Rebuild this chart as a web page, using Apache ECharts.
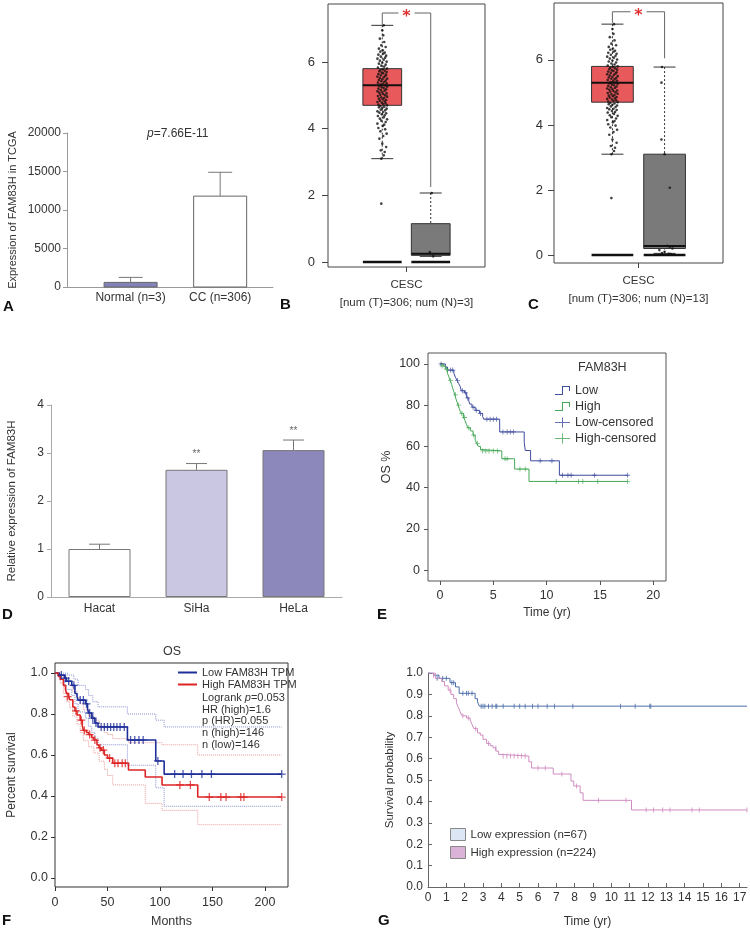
<!DOCTYPE html>
<html>
<head>
<meta charset="utf-8">
<script src="https://cdn.jsdelivr.net/npm/echarts@6/dist/echarts.min.js"></script>
<style>
html, body { margin: 0; padding: 0; background: #fff; }
#chart { width: 750px; height: 932px; }
</style>
</head>
<body>
<div id="chart"></div>
<script>
// ---------- data ----------
// A: TCGA expression
const catA = ['Normal (n=3)', 'CC (n=306)'];
const barA = [600, 11800];
const errA = [1250, 14900];

// B / C: GEPIA boxplots  [x, min, q1, median, q3, max]
const boxB = [[1, 3.1, 4.7, 5.3, 5.8, 7.1], [2, 0.17, 0.2, 0.25, 1.15, 2.07]];
const boxC = [[1, 3.1, 4.7, 5.3, 5.8, 7.1], [2, 0.05, 0.2, 0.28, 3.1, 5.78]];
// bracket: [x1, x2, top, leftEnd, rightEnd]
const bracketB = [[1, 2, 7.47, 7.12, 2.25]];
const bracketC = [[1, 2, 7.48, 7.14, 6.05]];
// tumour samples (jitter offset, log2 TPM)
const tumorPts = [
  [-0.02,3.1],[0.03,3.2],[0.05,3.3],[-0.03,3.35],[0.08,3.45],[0.0,3.55],[-0.06,3.7],[0.02,3.78],
  [0.09,3.85],[-0.04,3.92],[0.06,3.98],[-0.08,4.02],[0.01,4.08],[0.04,4.12],[-0.1,4.15],[0.07,4.2],
  [-0.02,4.24],[0.1,4.28],[-0.05,4.3],[0.03,4.34],[-0.09,4.38],[0.05,4.4],[-0.01,4.43],[0.08,4.46],
  [-0.06,4.48],[0.02,4.5],[-0.1,4.52],[0.06,4.55],[-0.03,4.57],[0.09,4.6],[0.0,4.62],[-0.07,4.64],
  [0.04,4.66],[-0.04,4.68],[0.1,4.7],[-0.08,4.72],[0.02,4.74],[0.07,4.76],[-0.01,4.78],[-0.1,4.8],
  [0.05,4.82],[-0.05,4.84],[0.08,4.86],[0.01,4.88],[-0.07,4.9],[0.04,4.92],[-0.02,4.94],[0.1,4.96],
  [-0.09,4.98],[0.06,5.0],[-0.04,5.02],[0.02,5.04],[0.09,5.06],[-0.06,5.08],[0.0,5.1],[-0.1,5.12],
  [0.05,5.14],[-0.03,5.16],[0.08,5.18],[-0.08,5.2],[0.03,5.22],[-0.01,5.24],[0.1,5.26],[-0.06,5.28],
  [0.06,5.3],[-0.04,5.32],[0.01,5.34],[0.09,5.36],[-0.09,5.38],[0.04,5.4],[-0.02,5.42],[0.07,5.44],
  [-0.07,5.46],[0.0,5.48],[0.1,5.5],[-0.05,5.52],[0.03,5.54],[-0.1,5.56],[0.06,5.58],[-0.03,5.6],
  [0.08,5.62],[-0.08,5.64],[0.02,5.66],[-0.01,5.68],[0.09,5.7],[-0.06,5.72],[0.05,5.74],[-0.04,5.76],
  [0.01,5.78],[0.1,5.8],[-0.09,5.83],[0.04,5.86],[-0.02,5.89],[0.07,5.92],[-0.07,5.95],[0.0,5.98],
  [0.09,6.01],[-0.05,6.04],[0.03,6.07],[-0.1,6.1],[0.06,6.13],[-0.03,6.16],[0.08,6.19],[-0.08,6.22],
  [0.02,6.25],[0.05,6.28],[-0.04,6.31],[0.01,6.35],[-0.07,6.4],[0.07,6.45],[-0.02,6.5],[0.04,6.6],
  [-0.05,6.7],[0.02,6.8],[0.0,6.95],[0.03,7.1],[-0.02,1.75]
];
const normPtsB = [[0.05,0.17],[-0.02,0.3],[0.02,2.07]];
const normPtsC = [[-0.05,5.78],[-0.06,5.3],[-0.06,3.55],[0.0,3.1],[0.1,2.07],[0.05,0.28],[0.1,0.25],
  [0.15,0.2],[-0.1,0.15],[0.0,0.1],[-0.05,0.06],[0.08,0.04],[0.12,0.03]];

// D: qPCR
const catD = ['Hacat', 'SiHa', 'HeLa'];
const barD = [1.0, 2.65, 3.06];
const errD = [1.1, 2.78, 3.27];
const sigD = ['', '**', '**'];

// E: KM (years, OS %)
const lowE = [[0,100],[0.5,98.5],[0.7,97],[1.3,95.5],[1.45,93.5],[1.6,92],[1.75,90.5],[1.9,89],[2.0,87],
  [2.3,86],[2.5,83.5],[2.7,82],[2.8,80.5],[3.0,79],[3.3,77.5],[3.7,76],[4.0,74.5],[4.1,73.2],[5.6,67],
  [7.9,62],[8.0,58],[8.5,53],[11.2,46],[17.6,46]];
const highE = [[0,100],[0.3,99],[0.5,97.5],[0.7,95.5],[0.85,93.5],[0.95,92],[1.1,90],[1.2,88],[1.3,86.5],
  [1.4,85],[1.5,83],[1.6,81.5],[1.7,80],[1.8,78.5],[1.9,77],[2.0,76],[2.2,74],[2.35,72.5],[2.5,70.5],
  [2.6,69],[2.85,67.5],[3.1,65.5],[3.3,63],[3.45,61.5],[3.6,60],[3.8,58.5],[3.9,57.8],[5.8,54],[7.0,49],
  [8.35,43],[17.6,43]];
const lowCensE = [[0.1,100],[1.0,97],[1.2,97],[1.65,92],[2.1,87],[2.4,86],[2.6,83.5],[3.1,79],[3.4,77.5],
  [3.8,76],[4.4,73.2],[4.7,73.2],[5.0,73.2],[5.3,73.2],[5.9,67],[6.3,67],[6.6,67],[6.9,67],[9.4,53],
  [10.5,53],[11.5,46],[12.0,46],[12.3,46],[14.5,46],[17.6,46]];
const highCensE = [[0.2,99],[0.6,97.5],[1.0,92],[1.45,85],[1.75,80],[2.05,76],[2.3,74],[2.7,69],[3.15,65.5],
  [3.5,61.5],[4.0,57.8],[4.3,57.8],[4.6,57.8],[5.0,57.8],[5.4,57.8],[6.1,54],[6.3,54],[7.5,49],[8.0,49],
  [10.9,43],[13.0,43],[13.4,43],[14.8,43],[17.6,43]];

// F: GEPIA KM (months, survival)
const lowF = [[0,1],[4,0.99],[9,0.975],[11,0.96],[16,0.94],[19,0.9],[21,0.885],[22,0.868],[29,0.85],
  [31,0.825],[32,0.805],[35,0.78],[38,0.756],[41,0.737],[69,0.673],[96,0.571],[104,0.507],[216,0.507]];
const highF = [[0,1],[3,0.985],[5,0.97],[8,0.94],[10,0.92],[11,0.9],[13,0.885],[14,0.87],[17,0.834],
  [19,0.815],[21,0.795],[24,0.77],[26,0.745],[27,0.72],[30,0.71],[32,0.7],[35,0.685],[37,0.673],[40,0.649],
  [42,0.635],[44,0.624],[47,0.6],[50,0.585],[55,0.56],[70,0.527],[86,0.493],[102,0.454],[136,0.395],[216,0.395]];
const lowUpF = [[0,1],[8,1],[12,0.99],[18,0.97],[22,0.94],[29,0.92],[32,0.89],[36,0.86],[41,0.835],
  [69,0.8],[96,0.77],[104,0.737],[216,0.737]];
const lowLoF = [[0,1],[4,0.97],[9,0.94],[11,0.92],[16,0.89],[19,0.85],[22,0.81],[29,0.78],[32,0.74],
  [35,0.71],[38,0.68],[41,0.65],[69,0.55],[96,0.44],[104,0.35],[216,0.35]];
const highUpF = [[0,1],[5,0.99],[8,0.98],[11,0.96],[14,0.94],[17,0.91],[21,0.88],[24,0.85],[27,0.82],
  [32,0.79],[37,0.77],[42,0.74],[47,0.71],[50,0.7],[55,0.68],[70,0.66],[102,0.65],[136,0.6],[216,0.6]];
const highLoF = [[0,1],[5,0.95],[8,0.9],[11,0.86],[14,0.83],[17,0.79],[21,0.75],[24,0.71],[27,0.67],
  [32,0.64],[37,0.61],[42,0.57],[47,0.53],[50,0.5],[55,0.454],[86,0.364],[102,0.33],[136,0.26],[216,0.26]];
const lowCensF = [[6,0.99],[10,0.975],[13,0.96],[18,0.94],[24,0.868],[27,0.868],[30,0.85],[33,0.805],
  [36,0.78],[39,0.756],[44,0.737],[47,0.737],[50,0.737],[53,0.737],[56,0.737],[59,0.737],[62,0.737],
  [66,0.737],[72,0.673],[76,0.673],[80,0.673],[84,0.673],[98,0.571],[114,0.507],[122,0.507],[130,0.507],
  [140,0.507],[149,0.507],[216,0.507]];
const highCensF = [[12,0.885],[20,0.815],[25,0.77],[28,0.72],[33,0.7],[38,0.673],[43,0.635],[46,0.624],
  [52,0.585],[57,0.56],[60,0.56],[64,0.56],[67,0.56],[119,0.454],[129,0.454],[147,0.395],[158,0.395],
  [163,0.395],[177,0.395],[180,0.395],[216,0.395]];

// G: KM (years, probability)
const lowG = [[0,1],[0.3,0.99],[0.6,0.975],[1.2,0.955],[1.5,0.935],[1.7,0.905],[2.57,0.88],[2.7,0.865],
  [2.8,0.845],[17.4,0.845]];
const highG = [[0,1],[0.4,0.975],[0.75,0.96],[0.9,0.94],[1.1,0.92],[1.25,0.9],[1.4,0.88],[1.55,0.86],
  [1.65,0.84],[1.75,0.82],[1.85,0.8],[2.1,0.79],[2.3,0.78],[2.4,0.76],[2.5,0.74],[2.7,0.72],[2.85,0.71],
  [3.0,0.69],[3.2,0.67],[3.4,0.66],[3.55,0.65],[3.7,0.635],[3.85,0.62],[3.95,0.612],[5.5,0.585],
  [5.65,0.556],[6.83,0.528],[7.8,0.495],[7.95,0.472],[8.3,0.44],[8.46,0.405],[11.1,0.36],[17.4,0.36]];
const lowCensG = [[0.5,0.975],[0.8,0.975],[1.0,0.975],[1.3,0.955],[1.4,0.955],[1.9,0.905],[2.1,0.905],
  [2.2,0.905],[2.4,0.905],[2.9,0.845],[3.0,0.845],[3.1,0.845],[3.3,0.845],[3.5,0.845],[3.7,0.845],
  [3.75,0.845],[4.1,0.845],[4.7,0.845],[5.0,0.845],[5.3,0.845],[5.7,0.845],[6.0,0.845],[6.5,0.845],
  [6.9,0.845],[7.9,0.845],[10.5,0.845],[11.3,0.845],[12.1,0.845],[12.15,0.845]];
const highCensG = [[0.3,0.99],[1.2,0.92],[1.9,0.8],[2.2,0.79],[2.6,0.74],[3.3,0.67],[3.7,0.65],[4.1,0.612],
  [4.3,0.612],[4.5,0.612],[4.7,0.612],[4.9,0.612],[5.1,0.612],[5.3,0.612],[6.0,0.556],[6.4,0.556],
  [7.3,0.528],[8.1,0.472],[9.3,0.405],[10.8,0.405],[11.9,0.36],[12.3,0.36],[12.8,0.36],[13.2,0.36],
  [14.4,0.36],[14.8,0.36],[17.4,0.36]];

const ticksE_x = [0, 5, 10, 15, 20];
const ticksE_y = [0, 20, 40, 60, 80, 100];
const ticksF_x = [0, 50, 100, 150, 200];
const ticksF_y = [0, 0.2, 0.4, 0.6, 0.8, 1.0];
const ticksG_x = [0, 1, 2, 3, 4, 5, 6, 7, 8, 9, 10, 11, 12, 13, 14, 15, 16, 17];

// ---------- chart ----------
const FONT = '"Liberation Sans", Arial, sans-serif';
const TXT = '#333';
const PLUS = 'path://M-0.16,-1H0.16V-0.16H1V0.16H0.16V1H-0.16V0.16H-1V-0.16H-0.16Z';
const PLUS_L = 'path://M7,0H8V4.5H15V5.5H8V10H7V5.5H0V4.5H7Z';
const STEP = 'path://M0,9H7V1H15V6H14V2H8V10H0Z';

const chart = echarts.init(document.getElementById('chart'));

function barErrRender(fills, halfW, cap) {
  return (params, api) => {
    const i = params.dataIndex;
    const x = api.value(0), v = api.value(1), e = api.value(2);
    const tl = api.coord([x - halfW, v]);
    const br = api.coord([x + halfW, 0]);
    const base = api.coord([x, v]);
    const top = api.coord([x, e]);
    return {
      type: 'group',
      children: [
        { type: 'line', shape: { x1: base[0], y1: base[1], x2: top[0], y2: top[1] }, style: { stroke: '#777', lineWidth: 1 } },
        { type: 'line', shape: { x1: top[0] - cap, y1: top[1], x2: top[0] + cap, y2: top[1] }, style: { stroke: '#777', lineWidth: 1 } },
        { type: 'rect', shape: { x: tl[0], y: tl[1], width: br[0] - tl[0], height: br[1] - tl[1] },
          style: { fill: fills[i], stroke: '#666', lineWidth: 1 } }
      ]
    };
  };
}

const boxFills = ['#e8595c', '#7a7a7a'];
function boxRender(params, api) {
  const x = api.value(0), lo = api.value(1), q1 = api.value(2), med = api.value(3), q3 = api.value(4), hi = api.value(5);
  const a = api.coord([x - 0.4, q3]), b = api.coord([x + 0.4, q1]);
  const m1 = api.coord([x - 0.4, med]), m2 = api.coord([x + 0.4, med]);
  const pHi = api.coord([x, hi]), pQ3 = api.coord([x, q3]), pQ1 = api.coord([x, q1]), pLo = api.coord([x, lo]);
  const cap = 11;
  const z1 = api.coord([x - 0.4, 0]), z2 = api.coord([x + 0.4, 0]);
  const dash = { stroke: '#333', lineWidth: 1, lineDash: [2, 2] };
  const solid = { stroke: '#333', lineWidth: 1 };
  return {
    type: 'group',
    children: [
      { type: 'line', shape: { x1: pHi[0], y1: pHi[1], x2: pQ3[0], y2: pQ3[1] }, style: dash },
      { type: 'line', shape: { x1: pLo[0], y1: pLo[1], x2: pQ1[0], y2: pQ1[1] }, style: dash },
      { type: 'line', shape: { x1: pHi[0] - cap, y1: pHi[1], x2: pHi[0] + cap, y2: pHi[1] }, style: solid },
      { type: 'line', shape: { x1: pLo[0] - cap, y1: pLo[1], x2: pLo[0] + cap, y2: pLo[1] }, style: solid },
      { type: 'rect', shape: { x: a[0], y: a[1], width: b[0] - a[0], height: b[1] - a[1] },
        style: { fill: boxFills[params.dataIndex], stroke: '#333', lineWidth: 1 } },
      { type: 'line', shape: { x1: m1[0], y1: m1[1], x2: m2[0], y2: m2[1] }, style: { stroke: '#111', lineWidth: 2 } },
      { type: 'line', shape: { x1: z1[0], y1: z1[1], x2: z2[0], y2: z2[1] }, style: { stroke: '#111', lineWidth: 2.5 } }
    ]
  };
}

function bracketRender(params, api) {
  const x1 = api.value(0), x2 = api.value(1), top = api.value(2), yl = api.value(3), yr = api.value(4);
  const pl = api.coord([x1, yl]), plt = api.coord([x1, top]);
  const pr = api.coord([x2, yr]), prt = api.coord([x2, top]);
  const mid = (plt[0] + prt[0]) / 2;
  const st = { stroke: '#666', lineWidth: 1, fill: 'none' };
  return {
    type: 'group',
    children: [
      { type: 'polyline', shape: { points: [pl, plt, [mid - 8, plt[1]]] }, style: st },
      { type: 'polyline', shape: { points: [[mid + 8, prt[1]], prt, pr] }, style: st },
      { type: 'text', x: mid, y: plt[1] + 4,
        style: { text: '*', fill: '#e03030', fontSize: 16, fontWeight: 'bold', fontFamily: 'DejaVu Sans',
                 align: 'center', verticalAlign: 'middle', textAlign: 'center', textVerticalAlign: 'middle' } }
    ]
  };
}

function errRenderD(params, api) {
  const i = params.dataIndex;
  const base = api.coord([api.value(0), api.value(1)]);
  const top = api.coord([api.value(0), api.value(2)]);
  const st = { stroke: '#777', lineWidth: 1 };
  return {
    type: 'group',
    children: [
      { type: 'line', shape: { x1: base[0], y1: base[1], x2: top[0], y2: top[1] }, style: st },
      { type: 'line', shape: { x1: top[0] - 10.5, y1: top[1], x2: top[0] + 10.5, y2: top[1] }, style: st },
      { type: 'text', x: top[0], y: top[1] - 4,
        style: { text: sigD[i], fill: '#666', fontSize: 10, fontFamily: FONT,
                 align: 'center', verticalAlign: 'bottom', textAlign: 'center', textVerticalAlign: 'bottom' } }
    ]
  };
}

const lbl = (extra) => Object.assign({ color: TXT, fontSize: 12, fontFamily: FONT }, extra);
const noSplit = { show: false };
const off = { show: false, onZero: false };

const xAxes = [
  { gridIndex: 0, type: 'value', min: 0.29, max: 2.59,
    axisLine: { show: true, onZero: false, lineStyle: { color: '#999' } }, axisTick: { show: false }, splitLine: noSplit,
    axisLabel: lbl({ customValues: [1, 2], formatter: v => catA[Math.round(v) - 1], margin: 5 }) },
  { gridIndex: 1, type: 'value', min: -0.12, max: 3.12, axisLine: off, splitLine: noSplit,
    axisTick: { show: true, customValues: [1.5], length: 5, lineStyle: { color: '#444' } },
    axisLabel: lbl({ customValues: [1.5], formatter: () => 'CESC\n[num (T)=306; num (N)=3]', margin: 9, lineHeight: 18, fontSize: 11.5 }) },
  { gridIndex: 2, type: 'value', min: -0.12, max: 3.12, axisLine: off, splitLine: noSplit,
    axisTick: { show: true, customValues: [1.5], length: 5, lineStyle: { color: '#444' } },
    axisLabel: lbl({ customValues: [1.5], formatter: () => 'CESC\n[num (T)=306; num (N)=13]', margin: 9, lineHeight: 18, fontSize: 11.5 }) },
  { gridIndex: 3, type: 'category', data: catD,
    axisLine: { show: true, lineStyle: { color: '#aaa' } }, axisTick: { show: false },
    axisLabel: lbl({ margin: 6 }) },
  { gridIndex: 4, type: 'value', min: -1.125, max: 21.2, axisLine: off, splitLine: noSplit,
    axisTick: { show: true, customValues: ticksE_x, length: 4, lineStyle: { color: '#555' } },
    axisLabel: lbl({ customValues: ticksE_x, margin: 8, fontSize: 12.5 }),
    name: 'Time (yr)', nameLocation: 'middle', nameGap: 26, nameTextStyle: lbl({ fontSize: 12 }) },
  { gridIndex: 5, type: 'value', min: 0, max: 222, axisLine: off, splitLine: noSplit,
    axisTick: { show: true, customValues: ticksF_x, length: 4, lineStyle: { color: '#333' } },
    axisLabel: lbl({ customValues: ticksF_x, margin: 9, fontSize: 12.5 }),
    name: 'Months', nameLocation: 'middle', nameGap: 28, nameTextStyle: lbl({ fontSize: 12.5 }) },
  { gridIndex: 6, type: 'value', min: 0, max: 17.4,
    axisLine: { show: true, onZero: false, lineStyle: { color: '#666' } }, splitLine: noSplit,
    axisTick: { show: true, inside: true, customValues: ticksG_x, length: 4, lineStyle: { color: '#666' } },
    axisLabel: lbl({ customValues: ticksG_x, margin: 5, fontSize: 12 }),
    name: 'Time (yr)', nameLocation: 'middle', nameGap: 29, nameTextStyle: lbl({ fontSize: 12 }) }
];

const yAxes = [
  { gridIndex: 0, type: 'value', min: 0, max: 20000, interval: 5000,
    axisLine: { show: true, onZero: false, lineStyle: { color: '#999' } }, axisTick: { show: true, length: 4, lineStyle: { color: '#999' } },
    splitLine: noSplit, axisLabel: lbl({ formatter: v => String(v), margin: 6 }),
    name: 'Expression of FAM83H in TCGA', nameLocation: 'middle', nameRotate: 90, nameGap: 49, nameTextStyle: lbl({ fontSize: 11 }) },
  { gridIndex: 1, type: 'value', min: -0.15, max: 7.74, axisLine: off, splitLine: noSplit,
    axisTick: { show: true, customValues: [0, 2, 4, 6], length: 6, lineStyle: { color: '#444' } },
    axisLabel: lbl({ customValues: [0, 2, 4, 6], margin: 13, fontSize: 13 }) },
  { gridIndex: 2, type: 'value', min: -0.246, max: 7.75, axisLine: off, splitLine: noSplit,
    axisTick: { show: true, customValues: [0, 2, 4, 6], length: 6, lineStyle: { color: '#444' } },
    axisLabel: lbl({ customValues: [0, 2, 4, 6], margin: 11, fontSize: 13 }) },
  { gridIndex: 3, type: 'value', min: 0, max: 4, interval: 1,
    axisLine: { show: true, onZero: false, lineStyle: { color: '#aaa' } }, axisTick: { show: true, length: 4, lineStyle: { color: '#aaa' } },
    splitLine: noSplit, axisLabel: lbl({ margin: 7 }),
    name: 'Relative expression of FAM83H', nameLocation: 'middle', nameRotate: 90, nameGap: 33, nameTextStyle: lbl({ fontSize: 11.5 }) },
  { gridIndex: 4, type: 'value', min: -5.3, max: 105.3, axisLine: off, splitLine: noSplit,
    axisTick: { show: true, customValues: ticksE_y, length: 4, lineStyle: { color: '#555' } },
    axisLabel: lbl({ customValues: ticksE_y, margin: 8, fontSize: 12.5 }),
    name: 'OS %', nameLocation: 'middle', nameRotate: 90, nameGap: 35, nameTextStyle: lbl({ fontSize: 12.5 }) },
  { gridIndex: 5, type: 'value', min: -0.044, max: 1.049, axisLine: off, splitLine: noSplit,
    axisTick: { show: true, customValues: ticksF_y, length: 4, lineStyle: { color: '#333' } },
    axisLabel: lbl({ customValues: ticksF_y, formatter: v => v.toFixed(1), margin: 7, fontSize: 12.5 }),
    name: 'Percent survival', nameLocation: 'middle', nameRotate: 90, nameGap: 37, nameTextStyle: lbl({ fontSize: 12 }) },
  { gridIndex: 6, type: 'value', min: 0, max: 1, interval: 0.1,
    axisLine: { show: true, onZero: false, lineStyle: { color: '#666' } },
    axisTick: { show: true, inside: true, length: 4, lineStyle: { color: '#666' } },
    splitLine: noSplit, axisLabel: lbl({ formatter: v => v.toFixed(1), margin: 5 }),
    name: 'Survival probability', nameLocation: 'middle', nameRotate: 90, nameGap: 32, nameTextStyle: lbl({ fontSize: 11.5 }) }
];

const kmLine = (name, xi, data, color, width, extra) => Object.assign({
  type: 'line', name, xAxisIndex: xi, yAxisIndex: xi, data, step: 'end',
  showSymbol: false, symbol: 'none', color, lineStyle: { width, color }, z: 3
}, extra || {});
const cens = (name, xi, data, color, symbol, size) => ({
  type: 'scatter', name, xAxisIndex: xi, yAxisIndex: xi, data, symbol, symbolSize: size, color, z: 4
});

const colLowE = '#3f4c9f', colHighE = '#45a856';
const colLowF = '#1f2f9a', colHighF = '#dd2424';
const colLowG = '#4b6ea8', colHighG = '#d08cc2';

const series = [
  // A
  { type: 'custom', xAxisIndex: 0, yAxisIndex: 0, renderItem: barErrRender(['#8381b9', '#ffffff'], 0.296, 12),
    data: barA.map((v, i) => [i + 1, v, errA[i]]), encode: { x: 0, y: [1, 2] } },
  // B
  { type: 'custom', xAxisIndex: 1, yAxisIndex: 1, renderItem: boxRender, data: boxB, encode: { x: 0, y: [1, 5] } },
  { type: 'scatter', xAxisIndex: 1, yAxisIndex: 1, symbolSize: 2.6, color: '#111',
    data: tumorPts.map(p => [1 + p[0], p[1]]).concat(normPtsB.map(p => [2 + p[0], p[1]])) },
  { type: 'custom', xAxisIndex: 1, yAxisIndex: 1, renderItem: bracketRender, data: bracketB, encode: { x: [0, 1], y: [2, 4] } },
  // C
  { type: 'custom', xAxisIndex: 2, yAxisIndex: 2, renderItem: boxRender, data: boxC, encode: { x: 0, y: [1, 5] } },
  { type: 'scatter', xAxisIndex: 2, yAxisIndex: 2, symbolSize: 2.6, color: '#111',
    data: tumorPts.map(p => [1 + p[0], p[1]]).concat(normPtsC.map(p => [2 + p[0], p[1]])) },
  { type: 'custom', xAxisIndex: 2, yAxisIndex: 2, renderItem: bracketRender, data: bracketC, encode: { x: [0, 1], y: [2, 4] } },
  // D
  { type: 'bar', xAxisIndex: 3, yAxisIndex: 3, barWidth: 62,
    itemStyle: { borderColor: '#777', borderWidth: 1 },
    data: barD.map((v, i) => ({ value: v, itemStyle: { color: ['#ffffff', '#c9c7e1', '#8c88bc'][i] } })) },
  { type: 'custom', xAxisIndex: 3, yAxisIndex: 3, renderItem: errRenderD, z: 5,
    data: barD.map((v, i) => [i, v, errD[i]]), encode: { x: 0, y: [1, 2] } },
  // E
  kmLine('Low', 4, lowE, colLowE, 1),
  kmLine('High', 4, highE, colHighE, 1),
  cens('Low-censored', 4, lowCensE, colLowE, PLUS, 5),
  cens('High-censored', 4, highCensE, colHighE, PLUS, 5),
  // F
  kmLine('lowUpF', 5, lowUpF, '#8a90d0', 1, { lineStyle: { width: 1, type: 'dotted', color: '#8a90d0' }, z: 2 }),
  kmLine('lowLoF', 5, lowLoF, '#8a90d0', 1, { lineStyle: { width: 1, type: 'dotted', color: '#8a90d0' }, z: 2 }),
  kmLine('highUpF', 5, highUpF, '#eb9a9a', 1, { lineStyle: { width: 1, type: 'dotted', color: '#eb9a9a' }, z: 2 }),
  kmLine('highLoF', 5, highLoF, '#eb9a9a', 1, { lineStyle: { width: 1, type: 'dotted', color: '#eb9a9a' }, z: 2 }),
  kmLine('Low FAM83H TPM', 5, lowF, colLowF, 1.6),
  kmLine('High FAM83H TPM', 5, highF, colHighF, 1.6),
  cens('lowCensF', 5, lowCensF, colLowF, PLUS, 8),
  cens('highCensF', 5, highCensF, colHighF, PLUS, 8),
  // G
  kmLine('Low expression (n=67)', 6, lowG, colLowG, 1),
  kmLine('High expression (n=224)', 6, highG, colHighG, 1),
  cens('lowCensG', 6, lowCensG, colLowG, 'rect', [1, 5]),
  cens('highCensG', 6, highCensG, colHighG, 'rect', [1, 5])
];

const panelLabel = (t, x, y) => ({
  type: 'text', left: x, top: y,
  style: { text: t, fill: '#111', font: 'bold 15px "Liberation Sans", Arial, sans-serif' }
});

chart.setOption({
  animation: false,
  backgroundColor: '#fff',
  textStyle: { fontFamily: FONT },
  grid: [
    { left: 67, top: 133, width: 206, height: 154 },
    { left: 328, top: 4, width: 157, height: 263, show: true, borderColor: '#444', borderWidth: 1 },
    { left: 554, top: 3, width: 169, height: 260, show: true, borderColor: '#444', borderWidth: 1 },
    { left: 51, top: 405, width: 291, height: 192 },
    { left: 428, top: 353, width: 238, height: 228, show: true, borderColor: '#555', borderWidth: 1 },
    { left: 55, top: 663, width: 233, height: 224, show: true, borderColor: '#333', borderWidth: 1 },
    { left: 428, top: 673, width: 319, height: 214 }
  ],
  xAxis: xAxes,
  yAxis: yAxes,
  legend: [
    { orient: 'vertical', left: 555, top: 384, padding: 0, itemWidth: 15, itemHeight: 10, itemGap: 3, selectedMode: false,
      textStyle: lbl({ fontSize: 12.5 }),
      data: [{ name: 'Low', icon: STEP }, { name: 'High', icon: STEP },
             { name: 'Low-censored', icon: PLUS_L }, { name: 'High-censored', icon: PLUS_L }] },
    { orient: 'vertical', left: 178, top: 667, padding: 0, itemWidth: 19, itemHeight: 2, itemGap: 1, selectedMode: false,
      textStyle: lbl({ fontSize: 11 }), icon: 'rect',
      data: ['Low FAM83H TPM', 'High FAM83H TPM'] },
    { orient: 'vertical', left: 450, top: 828, padding: 0, itemWidth: 15, itemHeight: 12, itemGap: 5, selectedMode: false,
      textStyle: lbl({ fontSize: 11.5 }), icon: 'rect',
      data: [{ name: 'Low expression (n=67)', itemStyle: { color: '#dce6f4', borderColor: '#888', borderWidth: 1 } },
             { name: 'High expression (n=224)', itemStyle: { color: '#dcb3d8', borderColor: '#888', borderWidth: 1 } }] }
  ],
  graphic: [
    { type: 'text', left: 147, top: 128,
      style: { text: '{i|p}=7.66E-11', fill: TXT, fontSize: 12, fontFamily: FONT,
               rich: { i: { fontStyle: 'italic', fontSize: 12, fontFamily: FONT, fill: TXT } } } },
    { type: 'text', left: 578, top: 361, style: { text: 'FAM83H', fill: TXT, fontSize: 12.5, fontFamily: FONT } },
    { type: 'text', left: 163, top: 645, style: { text: 'OS', fill: TXT, fontSize: 12.5, fontFamily: FONT } },
    { type: 'text', left: 202, top: 692,
      style: { text: 'Logrank {i|p}=0.053\nHR (high)=1.6\np (HR)=0.055\nn (high)=146\nn (low)=146',
               fill: TXT, fontSize: 11, lineHeight: 11.7, fontFamily: FONT,
               rich: { i: { fontStyle: 'italic', fontSize: 11, lineHeight: 11.7, fontFamily: FONT, fill: TXT } } } },
    panelLabel('A', 3, 299),
    panelLabel('B', 280, 297),
    panelLabel('C', 528, 297),
    panelLabel('D', 2, 607),
    panelLabel('E', 377, 607),
    panelLabel('F', 2, 913),
    panelLabel('G', 378, 913)
  ],
  series
});
</script>
</body>
</html>
